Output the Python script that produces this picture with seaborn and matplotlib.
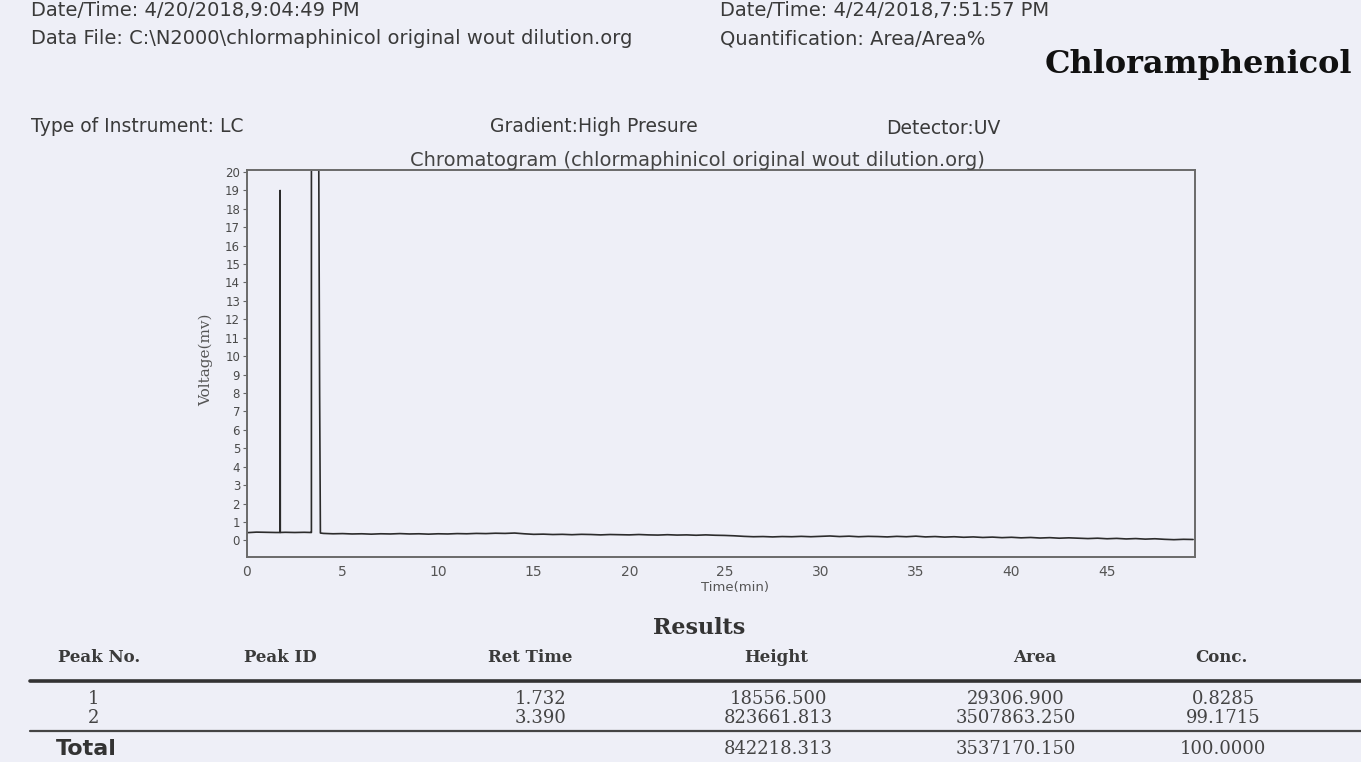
import numpy as np
import pandas as pd
import matplotlib
matplotlib.use("Agg")
import matplotlib.pyplot as plt
import seaborn as sns

# ---------------- data ----------------
# peak table (heights in uV, areas in uV*s)
peak_no = ["1", "2"]
ret_time = [1.732, 3.390]
peak_height = [18556.500, 823661.813]
peak_area = [29306.900, 3507863.250]
peak_conc = [0.8285, 99.1715]
total_height = 842218.313
total_area = 3537170.150
total_conc = 100.0000

# detector baseline (mV) before the main peak
base_t_early = [0.0, 0.5, 1.0, 1.5, 1.70, 2.0, 2.5, 3.0, 3.35]
base_v_early = [0.42, 0.45, 0.44, 0.43, 0.43, 0.44, 0.43, 0.44, 0.43]

# tail of the main peak (mV)
tail_t = [3.50, 3.62, 3.72, 3.80, 3.84]
tail_v = [260.0, 90.0, 30.0, 8.0, 0.40]

# detector baseline (mV) after the main peak, every 0.5 min from 4.0 to 49.5
base_t_late = [4.0 + 0.5 * i for i in range(92)]
base_v_late = [
    0.38, 0.36, 0.37, 0.35, 0.36, 0.34, 0.36, 0.35, 0.37, 0.35,
    0.36, 0.34, 0.36, 0.35, 0.37, 0.36, 0.38, 0.37, 0.39, 0.38,
    0.40, 0.36, 0.33, 0.34, 0.32, 0.33, 0.31, 0.33, 0.32, 0.30,
    0.32, 0.31, 0.30, 0.32, 0.30, 0.29, 0.31, 0.29, 0.30, 0.28,
    0.30, 0.28, 0.27, 0.25, 0.22, 0.20, 0.21, 0.19, 0.21, 0.20,
    0.22, 0.20, 0.22, 0.24, 0.21, 0.23, 0.20, 0.22, 0.21, 0.19,
    0.22, 0.20, 0.23, 0.19, 0.21, 0.18, 0.20, 0.17, 0.19, 0.16,
    0.18, 0.15, 0.17, 0.14, 0.16, 0.13, 0.15, 0.12, 0.14, 0.12,
    0.10, 0.12, 0.09, 0.11, 0.08, 0.10, 0.07, 0.09, 0.06, 0.04,
    0.06, 0.05,
]

x_ticks = [0, 5, 10, 15, 20, 25, 30, 35, 40, 45]
y_ticks = list(range(0, 21))

# ---------------- build the trace ----------------
def base_at(t):
    return float(np.interp(t, base_t_early, base_v_early))

p1_b = base_at(ret_time[0])
p2_b = base_at(ret_time[1])
trace_t = (
    [t for t in base_t_early if t < ret_time[0] - 0.01]
    + [ret_time[0] - 0.008, ret_time[0], ret_time[0] + 0.010]
    + [t for t in base_t_early if ret_time[0] + 0.01 < t < ret_time[1] - 0.02]
    + [ret_time[1] - 0.02, ret_time[1]]
    + tail_t
    + base_t_late
)
trace_v = (
    [v for t, v in zip(base_t_early, base_v_early) if t < ret_time[0] - 0.01]
    + [p1_b, p1_b + peak_height[0] / 1000.0, p1_b]
    + [v for t, v in zip(base_t_early, base_v_early) if ret_time[0] + 0.01 < t < ret_time[1] - 0.02]
    + [p2_b, p2_b + peak_height[1] / 1000.0]
    + tail_v
    + base_v_late
)
trace = pd.DataFrame({"time": trace_t, "voltage": trace_v})

# ---------------- figure ----------------
sns.set_style("white")
plt.rcParams["font.family"] = ["DejaVu Sans"]

W, H = 1361, 762
paper = "#eeeff7"
fig = plt.figure(figsize=(W / 100, H / 100), dpi=100, facecolor=paper)


def fx(x):
    return x / W


def fy(y):
    return 1 - y / H


ax = fig.add_axes([fx(247), fy(557), fx(1195) - fx(247), fy(170) - fy(557)])
ax.set_facecolor(paper)

sns.lineplot(data=trace, x="time", y="voltage", ax=ax, color="#2b2b2b",
             linewidth=1.2, estimator=None, sort=False)

ax.set_xlim(0, 49.6)
ax.set_ylim(-0.9, 20.1)
ax.set_xticks(x_ticks)
ax.set_xticklabels([str(v) for v in x_ticks])
ax.set_yticks(y_ticks)
ax.set_yticklabels([str(v) for v in y_ticks])
ax.tick_params(axis="x", length=0, pad=6, labelsize=10, labelcolor="#555555")
ax.tick_params(axis="y", length=3, width=0.8, color="#666666", pad=2,
               labelsize=8.5, labelcolor="#4a4a4a", left=True)
for side, sp in ax.spines.items():
    sp.set_visible(True)
    sp.set_color("#6a6a6a")
    sp.set_linewidth(1.4)

ax.set_xlabel("Time(min)", fontsize=9.5, color="#555555")
ax.xaxis.set_label_coords(0.515, -0.062)
ax.set_ylabel("Voltage(mv)", fontsize=11, color="#555555", family="DejaVu Serif")
ax.yaxis.set_label_coords(-0.036, 0.51)

fig.text(fx(697), fy(160), "Chromatogram (chlormaphinicol original wout dilution.org)",
         ha="center", va="center", fontsize=14, color="#444444")

# ---------------- header ----------------
hdr = dict(fontsize=14, color="#3a3a3a", va="center", ha="left")
fig.text(fx(31), fy(11), "Date/Time: 4/20/2018,9:04:49 PM", **hdr)
fig.text(fx(31), fy(39), "Data File: C:\\N2000\\chlormaphinicol original wout dilution.org", **hdr)
fig.text(fx(720), fy(11), "Date/Time: 4/24/2018,7:51:57 PM", **hdr)
fig.text(fx(720), fy(39), "Quantification: Area/Area%", **hdr)
fig.text(fx(1352), fy(64), "Chloramphenicol", ha="right", va="center",
         fontsize=23, fontweight="bold", family="DejaVu Serif", color="#111111")
hdr2 = dict(hdr, fontsize=13.5)
fig.text(fx(31), fy(127), "Type of Instrument: LC", **hdr2)
fig.text(fx(490), fy(127), "Gradient:High Presure", **hdr2)
fig.text(fx(886), fy(128), "Detector:UV", **hdr2)

# ---------------- results table ----------------
fig.text(fx(699), fy(628), "Results", ha="center", va="center", fontsize=16,
         fontweight="bold", family="DejaVu Serif", color="#333333")

col_x = [99, 280, 530, 776, 1035, 1221]
headers = ["Peak No.", "Peak ID", "Ret Time", "Height", "Area", "Conc."]
for x, h in zip(col_x, headers):
    fig.text(fx(x), fy(657), h, ha="center", va="center", fontsize=12,
             fontweight="bold", family="DejaVu Serif", color="#3a3a3a")

cell = dict(ha="center", va="center", fontsize=13, family="DejaVu Serif", color="#444444")
row_y = [699, 718]
val_x = [94, 541, 778, 1016, 1223]
for i, y in enumerate(row_y):
    fig.text(fx(val_x[0]), fy(y), peak_no[i], **cell)
    fig.text(fx(val_x[1]), fy(y), f"{ret_time[i]:.3f}", **cell)
    fig.text(fx(val_x[2]), fy(y), f"{peak_height[i]:.3f}", **cell)
    fig.text(fx(val_x[3]), fy(y), f"{peak_area[i]:.3f}", **cell)
    fig.text(fx(val_x[4]), fy(y), f"{peak_conc[i]:.4f}", **cell)

fig.text(fx(56), fy(749), "Total", ha="left", va="center", fontsize=16,
         fontweight="bold", color="#333333")
fig.text(fx(val_x[2]), fy(749), f"{total_height:.3f}", **cell)
fig.text(fx(val_x[3]), fy(749), f"{total_area:.3f}", **cell)
fig.text(fx(val_x[4]), fy(749), f"{total_conc:.4f}", **cell)

fig.add_artist(plt.Line2D([fx(30), fx(1361)], [fy(681), fy(681)], color="#333333", linewidth=2.6))
fig.add_artist(plt.Line2D([fx(30), fx(1361)], [fy(731), fy(731)], color="#444444", linewidth=1.6))

fig.savefig("out.png", dpi=100, facecolor=paper)
